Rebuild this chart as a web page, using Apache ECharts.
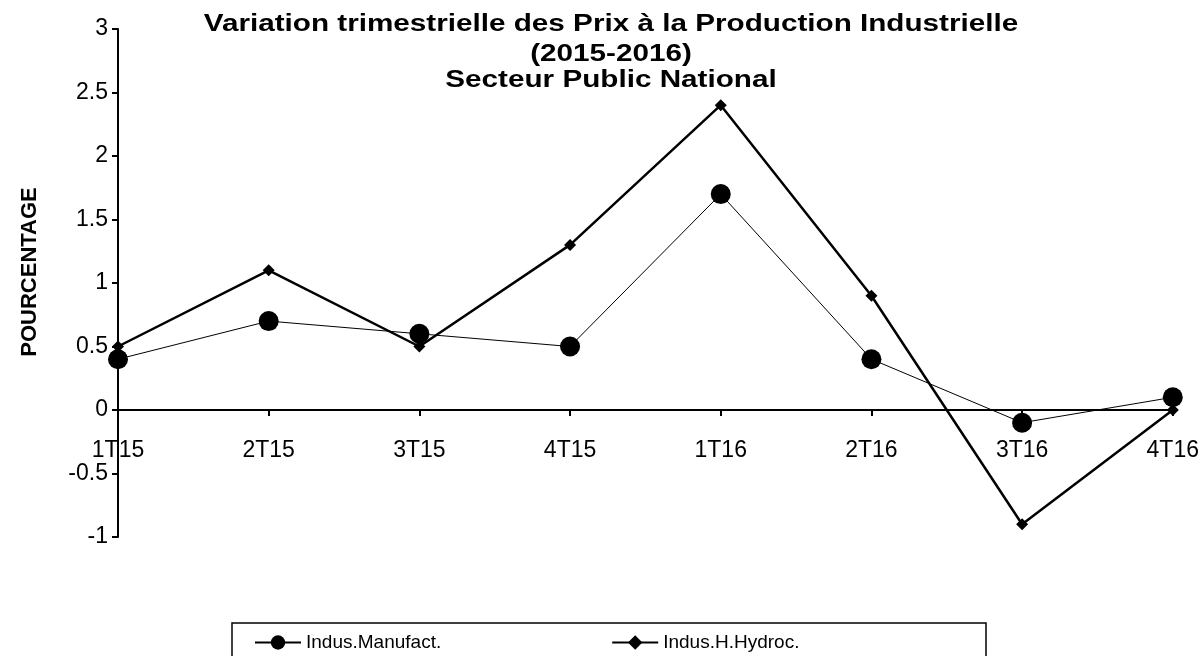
<!DOCTYPE html>
<html>
<head>
<meta charset="utf-8">
<script src="https://cdn.jsdelivr.net/npm/echarts@6/dist/echarts.min.js"></script>
<style>
html,body{margin:0;padding:0;background:#fff;}
#chart{width:1202px;height:656px;}
</style>
</head>
<body>
<div id="chart"></div>
<script>
var categories = ['1T15','2T15','3T15','4T15','1T16','2T16','3T16','4T16'];
var manufact = [0.4, 0.7, 0.6, 0.5, 1.7, 0.4, -0.1, 0.1];
var hydroc = [0.5, 1.1, 0.5, 1.3, 2.4, 0.9, -0.9, 0.0];
var seriesNames = ['Indus.Manufact.', 'Indus.H.Hydroc.'];
var titleLines = ['Variation trimestrielle des Prix à la Production Industrielle', '(2015-2016)', 'Secteur Public National'];
var yAxisTitle = 'POURCENTAGE';

var chart = echarts.init(document.getElementById('chart'), null, {renderer:'canvas'});
var font = 'Liberation Sans, Arial, Helvetica, sans-serif';
var titleY = [25, 55, 81];
var graphics = titleLines.map(function(t, i){
  return {
    type: 'text', x: 611, y: titleY[i], scaleX: 1.29, z: 10,
    style: { text: t, font: 'bold 23px ' + font, fill: '#000', textAlign: 'center', textVerticalAlign: 'middle' }
  };
});
graphics.push({
  type: 'text', x: 30, y: 272, rotation: Math.PI / 2, z: 10,
  style: { text: yAxisTitle, font: 'bold 22px ' + font, fill: '#000', textAlign: 'center', textVerticalAlign: 'middle' }
});
graphics.push({
  type: 'rect', shape: { x: 232, y: 623, width: 754, height: 60 },
  style: { fill: 'none', stroke: '#000', lineWidth: 1.5 }, z: 5
});
var option = {
  animation: false,
  backgroundColor: '#fff',
  textStyle: { fontFamily: font, color: '#000' },
  graphic: graphics,
  grid: { left: 118, right: 29, top: 29, bottom: 119, containLabel: false },
  legend: {
    left: 249, top: 628, itemGap: 170, itemWidth: 46, itemHeight: 18,
    textStyle: { fontSize: 19, color: '#000', fontFamily: font },
    data: seriesNames
  },
  xAxis: {
    type: 'category', data: categories, boundaryGap: false,
    axisLine: { onZero: true, lineStyle: { color: '#000', width: 2 } },
    axisTick: { show: true, length: 6, lineStyle: { color: '#000', width: 2 } },
    axisLabel: { fontSize: 23, color: '#000', margin: -98, fontFamily: font }
  },
  yAxis: {
    type: 'value', min: -1, max: 3, interval: 0.5,
    axisLine: { show: true, lineStyle: { color: '#000', width: 2 } },
    axisTick: { show: true, length: 6, lineStyle: { color: '#000', width: 2 } },
    splitLine: { show: false },
    axisLabel: { fontSize: 23, color: '#000', margin: 10, fontFamily: font }
  },
  series: [
    {
      name: seriesNames[0], type: 'line', data: manufact,
      symbol: 'circle', symbolSize: 20,
      lineStyle: { color: '#000', width: 1 }, itemStyle: { color: '#000' }
    },
    {
      name: seriesNames[1], type: 'line', data: hydroc,
      symbol: 'diamond', symbolSize: 12,
      lineStyle: { color: '#000', width: 2.5 }, itemStyle: { color: '#000' }
    }
  ]
};
chart.setOption(option);
</script>
</body>
</html>
